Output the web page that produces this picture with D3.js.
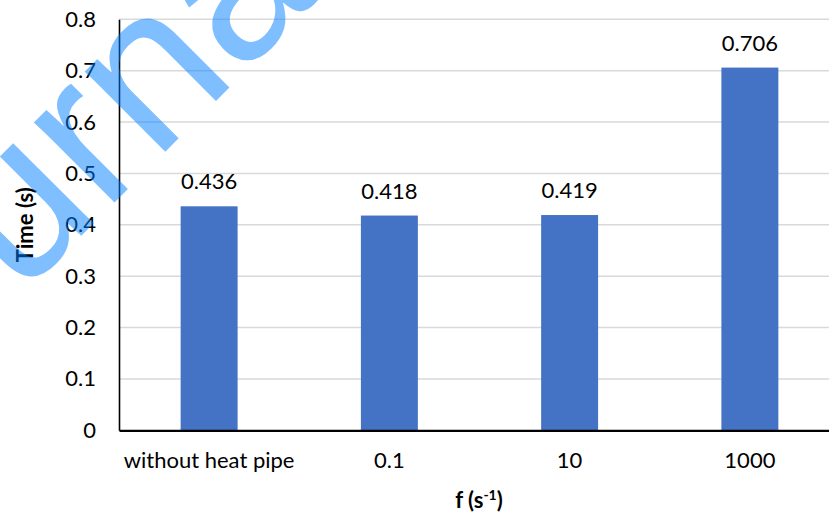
<!DOCTYPE html>
<html><head><meta charset="utf-8">
<script src="https://cdn.jsdelivr.net/npm/d3@7"></script>
<style>body{margin:0;background:#fff}svg{display:block}</style>
</head><body>
<script>
const categories = ["without heat pipe", "0.1", "10", "1000"];
const values = [0.436, 0.418, 0.419, 0.706];
const labels = ["0.436", "0.418", "0.419", "0.706"];
const yTicks = [0, 0.1, 0.2, 0.3, 0.4, 0.5, 0.6, 0.7, 0.8];
const yTickLabels = ["0", "0.1", "0.2", "0.3", "0.4", "0.5", "0.6", "0.7", "0.8"];

const W = 829, H = 515;
const margin = {left: 119, top: 19.3, right: -11, bottom: 84.7};
const svg = d3.select("body").append("svg").attr("width", W).attr("height", H);
const font = "Lato, 'Open Sans', sans-serif";
const fs = "22px";

const x = d3.scaleBand().domain(categories).range([margin.left, W - margin.right]).paddingInner(0).paddingOuter(0);
const y = d3.scaleLinear().domain([0, 0.8]).range([H - margin.bottom, margin.top]);

// gridlines
svg.append("g").selectAll("line").data(yTicks.filter(d => d > 0)).join("line")
  .attr("x1", margin.left).attr("x2", W)
  .attr("y1", d => y(d)).attr("y2", d => y(d))
  .attr("stroke", "#d9d9d9").attr("stroke-width", 1.5);

// bars
const bw = x.bandwidth() * 0.316;
svg.append("g").selectAll("rect").data(values).join("rect")
  .attr("x", (d, i) => x(categories[i]) + x.bandwidth() / 2 - bw / 2)
  .attr("width", bw)
  .attr("y", d => y(d))
  .attr("height", d => y(0) - y(d))
  .attr("fill", "#4472c4");

// data labels
svg.append("g").selectAll("text").data(values).join("text")
  .attr("x", (d, i) => x(categories[i]) + x.bandwidth() / 2)
  .attr("y", d => y(d) - 17)
  .attr("text-anchor", "middle")
  .style("font-family", font).style("font-size", fs).attr("fill", "#000")
  .text((d, i) => labels[i]);

// y axis
const yAxis = d3.axisLeft(y).tickValues(yTicks).tickFormat((d, i) => yTickLabels[i]).tickSize(0).tickPadding(23);
const gy = svg.append("g").attr("transform", `translate(${margin.left},0)`).call(yAxis);
gy.select(".domain").attr("stroke", "#000").attr("stroke-width", 1.6);
gy.selectAll("text").style("font-family", font).style("font-size", fs).attr("fill", "#000");

// x axis
const xAxis = d3.axisBottom(x).tickSize(0).tickPadding(22);
const gx = svg.append("g").attr("transform", `translate(0,${y(0)})`).call(xAxis);
gx.select(".domain").attr("stroke", "#000").attr("stroke-width", 2.2);
gx.selectAll("text").style("font-family", font).style("font-size", fs).attr("fill", "#000");

// axis titles
svg.append("text").attr("x", 479).attr("y", 508).attr("text-anchor", "middle")
  .style("font-family", font).style("font-size", fs).style("font-weight", "bold")
  .html('f (s<tspan dy="-8" style="font-size:14px">-1</tspan><tspan dy="8">)</tspan>');
svg.append("text").attr("transform", `translate(33,${(y(0) + y(0.8)) / 2}) rotate(-90)`)
  .attr("text-anchor", "middle")
  .style("font-family", font).style("font-size", fs).style("font-weight", "bold")
  .text("Time (s)");

// watermark
svg.append("text").attr("transform", "translate(-141,458) rotate(-45)")
  .style("font-family", "'Liberation Sans', Arial, sans-serif").style("font-size", "215px")
  .attr("fill", "rgb(0,128,255)").attr("fill-opacity", 0.5)
  .text("Journal Pre-proof");
</script>
</body></html>
